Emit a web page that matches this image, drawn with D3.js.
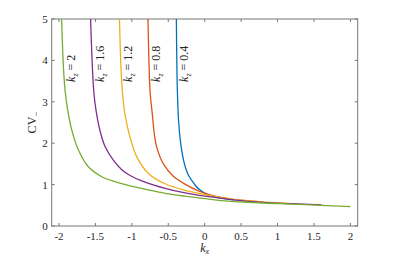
<!DOCTYPE html>
<html>
<head>
<meta charset="utf-8">
<script src="https://cdn.jsdelivr.net/npm/d3@7"></script>
<style>
  body { margin: 0; background: #fff; }
  svg { display: block; }
  text { font-family: "Liberation Serif", "Times New Roman", "DejaVu Serif", serif; }
</style>
</head>
<body>
<svg id="chart" width="395" height="256"></svg>
<script>
// ── Data ────────────────────────────────────────────────────
const kzValues = [0.4, 0.8, 1.2, 1.6, 2];
const kzLabels = ["0.4", "0.8", "1.2", "1.6", "2"];
const colors   = ["#0072BD", "#D95319", "#EDB120", "#7E2F8E", "#77AC30"];

// [k_x, CV_-] points per curve
const curveKz04 = [[-0.389, 5], [-0.381, 3.77], [-0.374, 3.2], [-0.357, 2.5], [-0.33, 2.0], [-0.30, 1.67],
  [-0.27, 1.45], [-0.23, 1.25], [-0.177, 1.1], [-0.12, 0.96], [-0.063, 0.87], [0.03, 0.77],
  [0.19, 0.685], [0.4, 0.63]];
const curveKz08 = [[-0.779, 5], [-0.762, 3.77], [-0.748, 3.2], [-0.72, 2.72], [-0.69, 2.2], [-0.658, 1.9],
  [-0.567, 1.5], [-0.43, 1.2], [-0.26, 1.0], [-0.086, 0.85], [0.1, 0.74], [0.37, 0.65], [0.8, 0.58]];
const curveKz12 = [[-1.17, 5], [-1.148, 3.77], [-1.128, 3.2], [-1.093, 2.68], [-1.024, 2.14], [-0.932, 1.67],
  [-0.773, 1.27], [-0.544, 1.02], [-0.269, 0.86], [0.006, 0.76], [0.4, 0.645], [0.8, 0.58], [1.2, 0.54]];
const curveKz16 = [[-1.566, 5], [-1.54, 3.77], [-1.52, 3.2], [-1.492, 2.8], [-1.437, 2.3], [-1.368, 1.92],
  [-1.254, 1.59], [-1.138, 1.36], [-1.024, 1.22], [-0.818, 1.06], [-0.544, 0.91], [-0.269, 0.8],
  [0.006, 0.72], [0.4, 0.63], [0.8, 0.57], [1.2, 0.54], [1.6, 0.51]];
const curveKz2  = [[-1.964, 5], [-1.937, 3.77], [-1.912, 3.2], [-1.88, 2.8], [-1.825, 2.32], [-1.735, 1.84],
  [-1.597, 1.43], [-1.413, 1.19], [-1.23, 1.07], [-1.024, 0.97], [-0.818, 0.89], [-0.544, 0.79],
  [-0.269, 0.72], [0.006, 0.66], [0.28, 0.605], [0.8, 0.555], [1.2, 0.53], [1.6, 0.5], [2, 0.47]];
const curves = [curveKz04, curveKz08, curveKz12, curveKz16, curveKz2];

// label anchors (k_x, CV_-) for the rotated k_z texts
const labelX = [-0.28, -0.67, -1.056, -1.44, -1.84];
const labelY = 3.48;

const xTicks = [-2, -1.5, -1, -0.5, 0, 0.5, 1, 1.5, 2];
const yTicks = [0, 1, 2, 3, 4, 5];

// ── Layout ──────────────────────────────────────────────────
const M = { left: 51.7, top: 19, right: 357.7, bottom: 226 };
const axisColor = "#777";
const textColor = "#262626";
const FONT = "Liberation Serif";

const svg = d3.select("#chart");
const x = d3.scaleLinear().domain([-2.1, 2.1]).range([M.left, M.right]);
const y = d3.scaleLinear().domain([0, 5]).range([M.bottom, M.top]);

const TICK = 3;

// box
svg.append("rect")
  .attr("x", M.left).attr("y", M.top)
  .attr("width", M.right - M.left).attr("height", M.bottom - M.top)
  .attr("fill", "none").attr("stroke", axisColor).attr("stroke-width", 1);

// x ticks (bottom + top, inward)
const xt = svg.append("g");
xTicks.forEach(t => {
  xt.append("line").attr("x1", x(t)).attr("x2", x(t))
    .attr("y1", M.bottom).attr("y2", M.bottom - TICK).attr("stroke", axisColor);
  xt.append("line").attr("x1", x(t)).attr("x2", x(t))
    .attr("y1", M.top).attr("y2", M.top + TICK).attr("stroke", axisColor);
  xt.append("text").attr("x", x(t)).attr("y", M.bottom + 14)
    .attr("text-anchor", "middle").attr("font-family", FONT)
    .attr("font-size", 11).attr("fill", textColor)
    .text(t);
});

// y ticks (left + right, inward)
const yt = svg.append("g");
yTicks.forEach(t => {
  yt.append("line").attr("x1", M.left).attr("x2", M.left + TICK)
    .attr("y1", y(t)).attr("y2", y(t)).attr("stroke", axisColor);
  yt.append("line").attr("x1", M.right).attr("x2", M.right - TICK)
    .attr("y1", y(t)).attr("y2", y(t)).attr("stroke", axisColor);
  yt.append("text").attr("x", M.left - 4).attr("y", y(t) + 4)
    .attr("text-anchor", "end").attr("font-family", FONT)
    .attr("font-size", 11).attr("fill", textColor)
    .text(t);
});

// curves
const line = d3.line()
  .x(d => x(d[0])).y(d => y(d[1]))
  .curve(d3.curveCatmullRom.alpha(0.5));

svg.append("defs").append("clipPath").attr("id", "clip")
  .append("rect").attr("x", M.left).attr("y", M.top)
  .attr("width", M.right - M.left).attr("height", M.bottom - M.top);

const cg = svg.append("g").attr("clip-path", "url(#clip)");
curves.forEach((c, i) => {
  cg.append("path").attr("d", line(c))
    .attr("fill", "none").attr("stroke", colors[i]).attr("stroke-width", 1.3);
});

// rotated k_z labels
kzValues.forEach((kz, i) => {
  const t = svg.append("text")
    .attr("transform", `translate(${x(labelX[i]) + 4},${y(labelY)}) rotate(-90)`)
    .attr("font-family", FONT).attr("font-size", 12).attr("fill", textColor);
  t.append("tspan").attr("font-style", "italic").text("k");
  t.append("tspan").attr("font-size", 8).attr("dy", 3).attr("font-style", "italic").text("z");
  t.append("tspan").attr("dy", -3).text(" = " + kzLabels[i]);
});

// axis labels
const xl = svg.append("text").attr("x", x(0)).attr("y", 252)
  .attr("text-anchor", "middle").attr("font-family", FONT)
  .attr("font-size", 12).attr("fill", textColor);
xl.append("tspan").attr("font-style", "italic").text("k");
xl.append("tspan").attr("font-size", 8).attr("dy", 2).attr("font-style", "italic").text("x");

const yl = svg.append("text")
  .attr("transform", `translate(36,${y(2.5)}) rotate(-90)`)
  .attr("text-anchor", "middle").attr("font-family", FONT)
  .attr("font-size", 12).attr("fill", textColor);
yl.append("tspan").text("CV");
yl.append("tspan").attr("font-size", 9).attr("dy", 3).text("\u2212");
</script>
</body>
</html>
